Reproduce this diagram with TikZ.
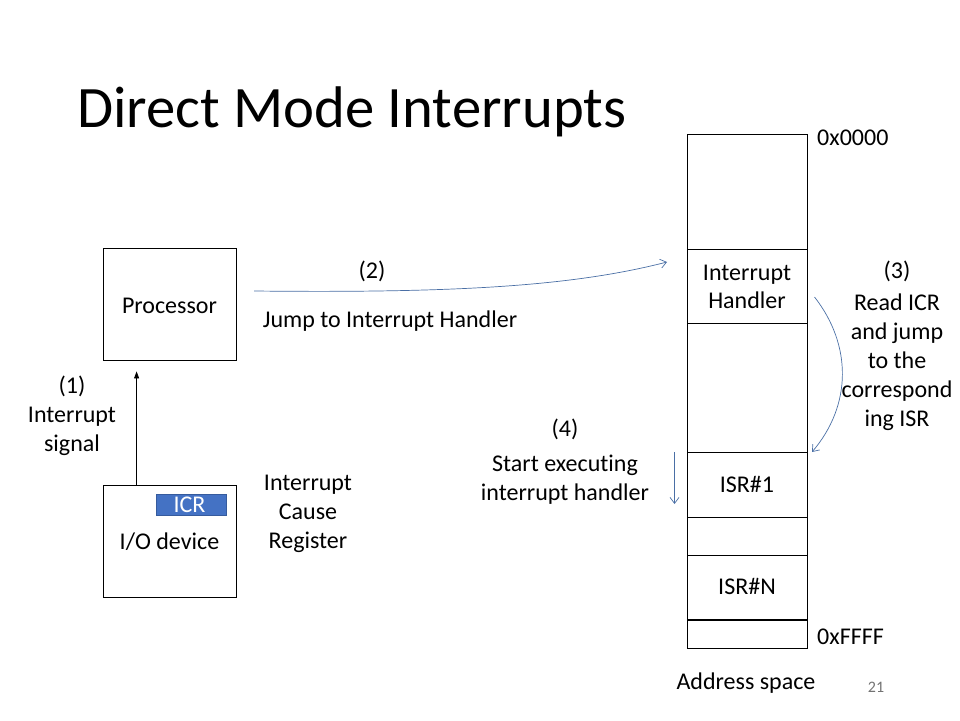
\documentclass[tikz,border=0pt]{standalone}
\usepackage{fontspec}
\setmainfont{Carlito}[Ligatures={NoCommon}]
\usetikzlibrary{arrows.meta,calc}
\definecolor{iblue}{HTML}{4472C4}
\definecolor{lblue}{HTML}{4A6FA5}
\begin{document}
\begin{tikzpicture}[x=1pt,y=-1pt,
  txt/.style={font=\fontsize{24}{29.3}\selectfont, inner sep=0pt, anchor=base},
  box/.style={draw, line width=0.8pt, minimum width=133pt, minimum height=112pt, inner sep=0pt},
  cell/.style={draw, line width=0.8pt, minimum width=120pt, inner sep=0pt},
  bluearr/.style={draw=lblue, line width=0.7pt, -{Straight Barb[length=6pt,width=9pt]}},
  blkarr/.style={draw=black, line width=0.8pt, -{Triangle[length=7pt,width=5pt]}}
]
\useasboundingbox (0,0) rectangle (960,720);

% title
\node[font=\fontsize{58.7}{70}\selectfont, inner sep=0pt, anchor=base west] (title) at (77,127) {Direct Mode Interrupts};

% processor and I/O
\node[box] (proc) at (169.5,304) {};
\node[txt] (proct) at (169.5,313) {Processor};
\node[box] (io) at (169.5,541) {};
\node[txt] (iot) at (169.5,549.5) {I/O device};
\node[fill=iblue, draw=iblue!80!black, line width=0.4pt, minimum width=70pt, minimum height=21pt, inner sep=0pt] (icr) at (191.5,505) {};
\node[font=\fontsize{24}{28}\selectfont, text=white, inner sep=0pt, anchor=base] (icrt) at (189.5,512.5) {ICR};

\coordinate (a1s) at ($(io.north west)+(34,0)$);
\coordinate (a1e) at ($(proc.south west)+(34,11)$);
\draw[blkarr] (a1s) -- (a1e);

\node[txt] (l1a) at (72,393) {(1)};
\node[txt] (l1b) at (72,422.5) {Interrupt};
\node[txt] (l1c) at (72,451.5) {signal};

\node[txt] (icr1) at (308,490) {Interrupt};
\node[txt] (icr2) at (308,519.5) {Cause};
\node[txt] (icr3) at (308,548.5) {Register};

% memory column
\node[cell, minimum height=115pt] (m1) at (747,191.5) {};
\node[cell, minimum height=74pt] (m2) at (747,286) {};
\node[cell, minimum height=129pt] (m3) at (747,387.5) {};
\node[cell, minimum height=65pt] (m4) at (747,484.5) {};
\node[cell, minimum height=38pt] (m5) at (747,536) {};
\node[cell, minimum height=65pt] (m6) at (747,587.5) {};
\node[cell, minimum height=29pt] (m7) at (747,634) {};

\node[txt] (ih1) at (747,280) {Interrupt};
\node[txt] (ih2) at (747,308.5) {Handler};
\node[txt] (isr1) at (747,492.5) {ISR\#1};
\node[txt] (isrn) at (747,594) {ISR\#N};

\node[txt, anchor=base west] (a0) at (817,145.5) {0x0000};
\node[txt, anchor=base west] (af) at (817,644.5) {0xFFFF};
\node[txt] (as) at (746,689) {Address space};
\node[font=\fontsize{16}{19}\selectfont, text=black!55, inner sep=0pt, anchor=base] (pg) at (876,692) {21};

% (2)
\coordinate (a2s) at (254,291);
\coordinate (a2e) at (667,262);
\draw[bluearr] (a2s) .. controls (450,293) and (570,287) .. (a2e);
\node[txt] (l2) at (372,278) {(2)};
\node[txt] (l2b) at (390,327) {Jump to Interrupt Handler};

% (3)
\coordinate (a3s) at (814.5,297);
\coordinate (a3e) at (812,452);
\draw[bluearr] (a3s) .. controls (852,345) and (852,405) .. (a3e);
\node[txt] (l3a) at (897,278) {(3)};
\node[txt] (l3b) at (897,310.5) {Read ICR};
\node[txt] (l3c) at (897,339.5) {and jump};
\node[txt] (l3d) at (897,368.5) {to the};
\node[txt] (l3e) at (897,397.5) {correspond};
\node[txt] (l3f) at (897,426.5) {ing ISR};

% (4)
\coordinate (a4s) at (674.5,452);
\coordinate (a4e) at (674.5,504);
\draw[bluearr] (a4s) -- (a4e);
\node[txt] (l4a) at (565,436) {(4)};
\node[txt] (l4b) at (565,471.5) {Start executing};
\node[txt] (l4c) at (565,500.5) {interrupt handler};
\end{tikzpicture}
\end{document}
